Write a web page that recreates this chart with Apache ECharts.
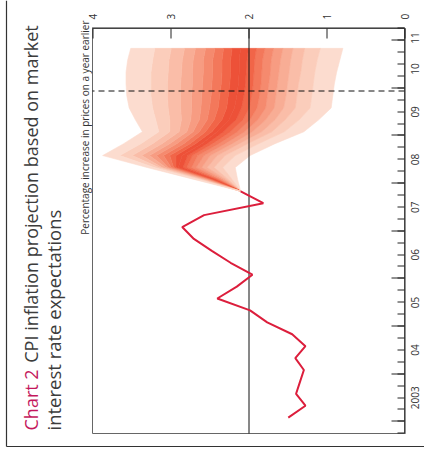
<!DOCTYPE html>
<html><head><meta charset="utf-8">
<script src="https://cdn.jsdelivr.net/npm/echarts@6/dist/echarts.min.js"></script>
<style>
html,body{margin:0;padding:0;width:424px;height:459px;overflow:hidden;background:#fff;}
#c{position:absolute;left:-17.5px;top:17.5px;width:459px;height:424px;transform:rotate(-90deg);transform-origin:50% 50%;}
</style></head><body><div id="c"></div>
<script>
// ---- data ----
const histTimes = [2003.083,2003.333,2003.583,2003.833,2004.083,2004.333,2004.583,2004.833,2005.083,2005.333,2005.583,2005.833,2006.083,2006.333,2006.583,2006.833,2007.083,2007.333,2007.583,2007.833];
const cpiHistory = [1.49,1.27,1.39,1.34,1.29,1.40,1.27,1.44,1.76,1.98,2.40,2.15,1.95,2.23,2.47,2.70,2.85,2.57,1.81,2.10];

const fanTimes = [2007.833,2008.083,2008.333,2008.583,2008.833,2009.083,2009.333,2009.583,2009.833,2010.083,2010.333,2010.583,2010.833];
const p05 = [2.10,2.14,2.17,1.98,1.66,1.29,1.10,0.94,0.92,0.90,0.87,0.83,0.79];
const p10 = [2.10,2.21,2.33,2.17,1.87,1.54,1.35,1.21,1.19,1.17,1.15,1.12,1.08];
const p15 = [2.10,2.26,2.44,2.30,2.01,1.70,1.53,1.40,1.38,1.36,1.33,1.31,1.28];
const p20 = [2.10,2.29,2.53,2.40,2.12,1.83,1.66,1.55,1.52,1.50,1.48,1.46,1.43];
const p25 = [2.10,2.32,2.60,2.49,2.21,1.95,1.78,1.67,1.65,1.63,1.61,1.59,1.56];
const p30 = [2.10,2.35,2.67,2.57,2.30,2.05,1.88,1.78,1.76,1.74,1.72,1.71,1.68];
const p35 = [2.10,2.38,2.73,2.65,2.38,2.14,1.98,1.89,1.86,1.84,1.83,1.82,1.79];
const p40 = [2.10,2.40,2.79,2.72,2.46,2.23,2.07,1.99,1.96,1.94,1.93,1.92,1.90];
const p45 = [2.10,2.43,2.84,2.78,2.53,2.32,2.16,2.09,2.06,2.04,2.03,2.02,2.00];
const p50 = [2.10,2.45,2.90,2.85,2.60,2.40,2.25,2.18,2.15,2.13,2.12,2.12,2.10];
const p55 = [2.10,2.47,2.93,2.93,2.68,2.47,2.34,2.28,2.26,2.24,2.23,2.23,2.21];
const p60 = [2.10,2.49,2.96,3.01,2.75,2.55,2.44,2.39,2.37,2.35,2.34,2.34,2.32];
const p65 = [2.10,2.51,2.99,3.09,2.83,2.63,2.53,2.50,2.48,2.47,2.46,2.46,2.43];
const p70 = [2.10,2.53,3.03,3.18,2.92,2.71,2.63,2.61,2.60,2.59,2.58,2.58,2.55];
const p75 = [2.10,2.55,3.06,3.27,3.01,2.79,2.74,2.73,2.73,2.72,2.72,2.71,2.68];
const p80 = [2.10,2.58,3.11,3.37,3.11,2.89,2.86,2.87,2.87,2.87,2.86,2.85,2.82];
const p85 = [2.10,2.61,3.15,3.49,3.23,3.01,3.01,3.03,3.04,3.04,3.03,3.02,2.99];
const p90 = [2.10,2.64,3.21,3.65,3.38,3.15,3.19,3.23,3.25,3.25,3.25,3.23,3.20];
const p95 = [2.10,2.70,3.30,3.87,3.60,3.36,3.45,3.53,3.56,3.57,3.57,3.55,3.51];

const yearTickValues = [2003,2004,2005,2006,2007,2008,2009,2010,2011];
const yearLabelValues = [2003.5,2004.5,2005.5,2006.5,2007.5,2008.5,2009.5,2010.4,2011.05];
const yearLabels = ['2003','04','05','06','07','08','09','10','11'];
const targetRate = 2;
const projectionMarker = 2009.94;

const titleMain = 'CPI inflation projection based on market';
const titleSecond = 'interest rate expectations';
const chartNo = 'Chart 2';
const axisNote = 'Percentage increase in prices on a year earlier';

// ---- presentation ----
const fanBounds = [p05,p10,p15,p20,p25,p30,p35,p40,p45,p50,p55,p60,p65,p70,p75,p80,p85,p90,p95];
const bandColors = ['#fcdccf','#fbcdbb','#fabda8','#f8ad95','#f79c82','#f58a6e','#f3785b','#f16548','#ed5138',
                    '#ed5138','#f16548','#f3785b','#f58a6e','#f79c82','#f8ad95','#fabda8','#fbcdbb','#fcdccf'];
const FONT = '"Open Sans", "DejaVu Sans", sans-serif';

const chart = echarts.init(document.getElementById('c'), null, {renderer:'svg', width:459, height:424});
chart.setOption({
  animation:false,
  backgroundColor:'#fff',
  grid:{left:26,right:28,top:92,bottom:20,containLabel:false,outerBoundsMode:'none',show:true,borderColor:'#666',borderWidth:1},
  xAxis:[{
    type:'value',min:2002.75,max:2011.25,position:'bottom',z:10,
    axisLine:{show:true,lineStyle:{color:'#222',width:1}},
    axisTick:{show:true,inside:true,length:13,customValues:yearTickValues,lineStyle:{color:'#222',width:1}},
    axisLabel:{show:true,customValues:yearLabelValues,fontSize:10,color:'#333',margin:5,fontFamily:FONT,
      formatter:(v)=>{const i=yearLabelValues.findIndex(x=>Math.abs(x-v)<1e-6);return i>=0?yearLabels[i]:'';}},
    splitLine:{show:false}
  },{
    type:'value',min:2002.75,max:2011.25,interval:0.25,position:'bottom',z:10,
    axisLine:{show:false},
    axisTick:{show:true,inside:true,length:7,lineStyle:{color:'#222',width:1}},
    axisLabel:{show:false},splitLine:{show:false}
  }],
  yAxis:{
    type:'value',min:0,max:4,interval:1,position:'right',z:10,
    axisLine:{show:true,lineStyle:{color:'#222',width:1}},
    axisTick:{show:true,inside:true,length:10,lineStyle:{color:'#222',width:1}},
    axisLabel:{fontSize:10,color:'#333',margin:9,fontFamily:FONT},
    splitLine:{show:false}
  },
  series:[{
    type:'custom',xAxisIndex:0,yAxisIndex:0,z:1,silent:true,
    data:bandColors.map((c,i)=>[i]),
    renderItem:(params,api)=>{
      const i=params.dataIndex, lo=fanBounds[i], hi=fanBounds[i+1];
      const pts=[];
      for(let k=0;k<fanTimes.length;k++) pts.push(api.coord([fanTimes[k],lo[k]]));
      for(let k=fanTimes.length-1;k>=0;k--) pts.push(api.coord([fanTimes[k],hi[k]]));
      return {type:'polygon',shape:{points:pts},style:{fill:bandColors[i],stroke:bandColors[i],lineWidth:0.6}};
    }
  },{
    type:'line',xAxisIndex:0,yAxisIndex:0,z:5,silent:true,
    data:histTimes.map((t,i)=>[t,cpiHistory[i]]),
    showSymbol:false,symbol:'none',
    lineStyle:{color:'#dc1e3c',width:2},
    markLine:{silent:true,symbol:'none',label:{show:false},animation:false,
      data:[{yAxis:targetRate,lineStyle:{color:'#111',width:1,type:'solid'}},
            {xAxis:projectionMarker,lineStyle:{color:'#111',width:1,type:[6,4]}}]}
  }],
  graphic:[
    {type:'line',shape:{x1:13,y1:6,x2:459,y2:6},style:{stroke:'#333',lineWidth:1.2},silent:true},
    {type:'line',shape:{x1:13,y1:6,x2:13,y2:424},style:{stroke:'#333',lineWidth:1.2},silent:true},
    {type:'text',x:29,y:30,silent:true,style:{
      text:'{a|'+chartNo+'}  {b|'+titleMain+'}',
      textVerticalAlign:'middle',
      rich:{a:{fill:'#c4175c',font:'18px '+FONT},b:{fill:'#3c3c3c',font:'18px '+FONT}}}},
    {type:'text',x:29,y:53,silent:true,style:{text:titleSecond,fill:'#3c3c3c',font:'18.5px '+FONT,textVerticalAlign:'middle'}},
    {type:'text',x:439,y:84,silent:true,style:{text:axisNote,fill:'#333',font:'10px '+FONT,textAlign:'right',textVerticalAlign:'middle'}}
  ]
});
</script></body></html>
